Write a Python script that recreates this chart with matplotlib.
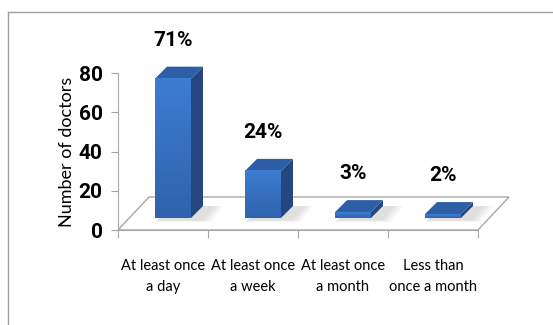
import matplotlib
matplotlib.use("Agg")
import matplotlib.pyplot as plt
import numpy as np
from matplotlib.patches import Polygon
from matplotlib.lines import Line2D
from matplotlib.colors import LinearSegmentedColormap

# ---- data ----
categories = ["At least once\na day", "At least once\na week",
              "At least once\na month", "Less than\nonce a month"]
counts = [71, 24, 3, 2]
percents = [71, 24, 3, 2]
y_ticks = [0, 20, 40, 60, 80]
y_label = "Number of doctors"

# ---- fonts ----
narrow_kw = dict(family=["Roboto", "DejaVu Sans"])
lab_font = ["Lato", "DejaVu Sans"]

# ---- style ----
W, H = 553, 325
fig = plt.figure(figsize=(W / 100, H / 100), dpi=100)
ax = fig.add_axes([118 / W, (H - 230) / H, 360 / W, 157 / H])

px_x = 90.0
px_y = 157 / 80.0
bar_w = 0.40
base_dx, base_dy = 10 / px_x, 12 / px_y
dep_dx, dep_dy = 12 / px_x, 12 / px_y
floor_dx, floor_dy = 31 / px_x, 33 / px_y
grid_col = "#a6a6a6"

n = len(categories)
floor = Polygon([(-0.5, 0), (n - 0.5, 0), (n - 0.5 + floor_dx, floor_dy),
                 (-0.5 + floor_dx, floor_dy)], closed=True,
                facecolor="white", edgecolor=grid_col, lw=1.0,
                clip_on=False, zorder=1)
ax.add_patch(floor)

xs = np.arange(n)
grad = np.linspace(0, 1, 64).reshape(-1, 1)
cmap = LinearSegmentedColormap.from_list("b", ["#2f63ad", "#3d7dd2"])

for i, v in enumerate(counts):
    x0 = xs[i] + base_dx - bar_w / 2
    x1 = x0 + bar_w
    y0 = base_dy
    y1 = base_dy + v
    for k in range(4):
        e = 0.03 * (k + 1)
        sh = Polygon([(x0 + 0.04 - e * 0.3, y0 - 0.8 - e * 10),
                      (x1 + 0.10 + e, y0 - 0.8 - e * 10),
                      (x1 + dep_dx + 0.10 + e, y0 + dep_dy),
                      (x0 + dep_dx + 0.04, y0 + dep_dy)], closed=True,
                     facecolor="#606060", edgecolor="none", alpha=0.05,
                     clip_on=False, zorder=2)
        ax.add_patch(sh)
    bars = ax.bar([xs[i] + base_dx], [v], bottom=base_dy, width=bar_w,
                  color="#3570c0", edgecolor="none", clip_on=False, zorder=3)
    rect = bars[0]
    im = ax.imshow(grad, extent=[x0, x1, y0, y1], origin="lower", cmap=cmap,
                   aspect="auto", zorder=3.5, clip_on=False)
    im.set_clip_path(rect)
    side = Polygon([(x1, y0), (x1 + dep_dx, y0 + dep_dy),
                    (x1 + dep_dx, y1 + dep_dy), (x1, y1)], closed=True,
                   facecolor="#24477f", edgecolor="none", clip_on=False,
                   zorder=3)
    ax.add_patch(side)
    top = Polygon([(x0, y1), (x1, y1), (x1 + dep_dx, y1 + dep_dy),
                   (x0 + dep_dx, y1 + dep_dy)], closed=True,
                  facecolor="#2d5fa6", edgecolor="none", clip_on=False,
                  zorder=3)
    ax.add_patch(top)
    ax.annotate(f"{percents[i]}%", xy=(xs[i] + base_dx, y1 + dep_dy),
                xytext=(0, 12), textcoords="offset points", ha="center",
                va="bottom", fontsize=15, fontweight="bold",
                annotation_clip=False, zorder=5, **narrow_kw)

ax.set_xlim(-0.5, n - 0.5)
ax.set_ylim(0, 80)

for s in ["top", "right"]:
    ax.spines[s].set_visible(False)
for s in ["left", "bottom"]:
    ax.spines[s].set_color(grid_col)
    ax.spines[s].set_zorder(1.5)
ax.patch.set_visible(False)

ax.set_yticks(y_ticks)
ax.set_yticklabels([str(t) for t in y_ticks], fontsize=15, fontweight="bold",
                   **narrow_kw)
ax.tick_params(axis="y", length=5, color=grid_col, pad=6)

ax.set_xticks(np.arange(-0.5, n, 1.0))
ax.set_xticklabels([""] * (n + 1))
ax.set_xticks(xs, minor=True)
ax.set_xticklabels(categories, minor=True, fontsize=10.5, family=lab_font,
                   linespacing=1.65)
ax.tick_params(axis="x", which="major", length=6, color=grid_col)
ax.tick_params(axis="x", which="minor", length=0, pad=21)

ax.set_ylabel(y_label, fontsize=13, family=lab_font, labelpad=3)

fig.add_artist(Line2D([8 / W, 8 / W], [0, 1 - 12 / H], color="#a0a0a0",
                      lw=1.0, transform=fig.transFigure))
fig.add_artist(Line2D([8 / W, 1], [1 - 12 / H, 1 - 12 / H], color="#a0a0a0",
                      lw=1.0, transform=fig.transFigure))

fig.savefig("out.png", dpi=100)
